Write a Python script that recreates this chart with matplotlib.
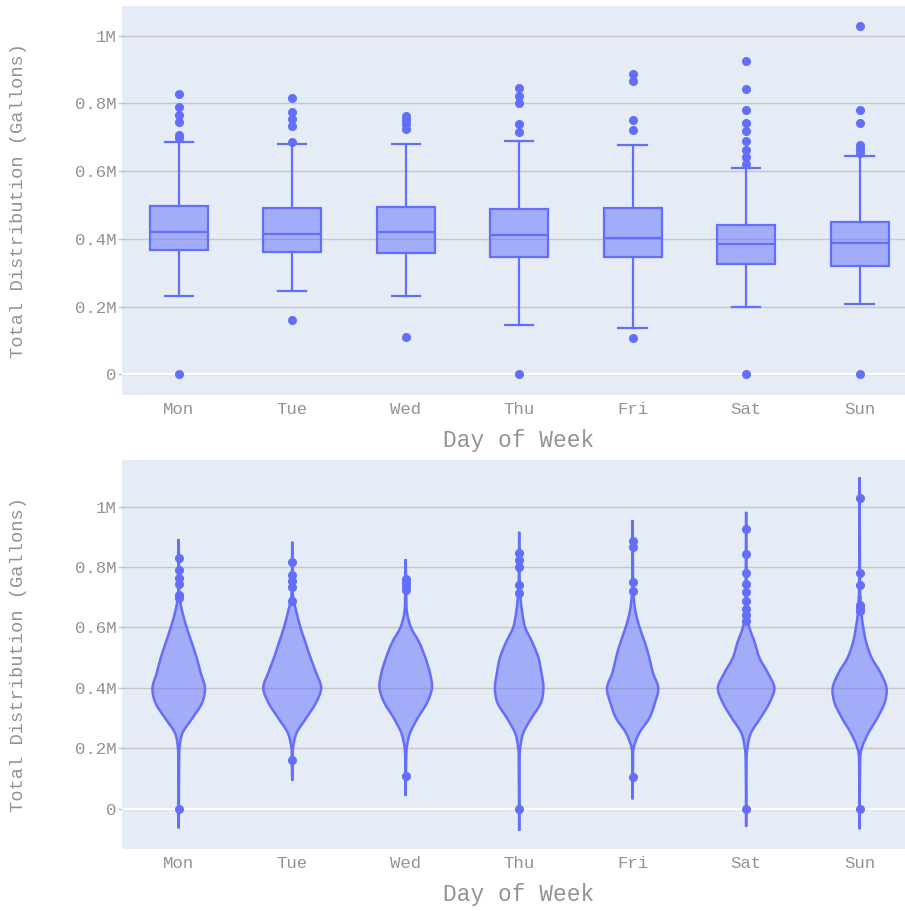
import numpy as np
import matplotlib.pyplot as plt
from matplotlib.path import Path
from matplotlib.patches import PathPatch
from matplotlib.ticker import FuncFormatter

# daily distribution, millions of gallons
days = ['Mon', 'Tue', 'Wed', 'Thu', 'Fri', 'Sat', 'Sun']
q1 = [0.366, 0.362, 0.359, 0.347, 0.346, 0.325, 0.320]
median = [0.419, 0.414, 0.421, 0.411, 0.404, 0.384, 0.388]
q3 = [0.497, 0.490, 0.494, 0.488, 0.490, 0.440, 0.450]
whisker_lo = [0.230, 0.246, 0.230, 0.145, 0.136, 0.199, 0.208]
whisker_hi = [0.687, 0.679, 0.679, 0.689, 0.676, 0.608, 0.644]
outliers = [
    [0.829, 0.790, 0.765, 0.745, 0.706, 0.699, 0.0],
    [0.817, 0.775, 0.753, 0.734, 0.687, 0.160],
    [0.762, 0.752, 0.738, 0.724, 0.109],
    [0.847, 0.823, 0.800, 0.740, 0.715, 0.0],
    [0.886, 0.866, 0.752, 0.722, 0.106],
    [0.925, 0.844, 0.782, 0.743, 0.718, 0.688, 0.661, 0.643, 0.621, 0.0],
    [1.030, 0.780, 0.741, 0.676, 0.665, 0.655, 0.0],
]

# violin outline: relative density at these levels, plus the span ends
kde_levels = [0.15, 0.20, 0.25, 0.30, 0.35, 0.40, 0.45, 0.50, 0.55, 0.60, 0.65, 0.70, 0.75]
kde_density = [
    [0.4, 0.8, 3.7, 13.7, 23.3, 26.3, 22.0, 18.0, 13.0, 8.0, 3.7, 0.8, 0.4],
    [0.4, 0.8, 4.3, 14.0, 23.7, 29.0, 24.0, 18.3, 13.3, 8.3, 4.3, 1.0, 0.4],
    [0.4, 1.0, 4.3, 12.0, 21.3, 26.3, 24.3, 19.7, 13.7, 5.3, 1.3, 0.6, 0.4],
    [0.4, 1.0, 4.0, 12.3, 21.7, 24.3, 22.3, 19.3, 13.3, 6.0, 3.0, 1.3, 0.4],
    [0.4, 1.0, 6.5, 16.7, 22.3, 25.7, 20.3, 16.7, 12.3, 7.0, 3.0, 1.0, 0.4],
    [0.4, 1.3, 4.7, 14.3, 23.3, 28.3, 21.7, 13.3, 8.7, 3.3, 1.0, 0.6, 0.4],
    [0.5, 2.2, 8.7, 17.7, 25.0, 27.0, 21.0, 12.0, 6.7, 3.7, 1.7, 0.8, 0.4],
]
span_lo = [-0.065, 0.093, 0.042, -0.073, 0.031, -0.060, -0.068]
span_hi = [0.893, 0.884, 0.826, 0.917, 0.956, 0.983, 1.097]

yticks = [0, 0.2, 0.4, 0.6, 0.8, 1.0]

BLUE = '#636EFA'
FILL = (99 / 255, 110 / 255, 250 / 255, 0.5)
BG = '#E5ECF6'
GRID = '#c6c6c6'
TXT = '#939393'

plt.rcParams['font.family'] = ['Liberation Mono', 'DejaVu Sans Mono']


def fmt_m(v, pos):
    if abs(v) < 1e-9:
        return '0'
    if abs(v - round(v)) < 1e-9:
        return f'{int(round(v))}M'
    return f'{v:.1f}M'


def smooth_segments(pts):
    # catmull-rom through the read points, handed to matplotlib as bezier curves
    verts, codes = [], []
    n = len(pts)
    for k in range(n - 1):
        p0 = pts[max(k - 1, 0)]
        p1 = pts[k]
        p2 = pts[k + 1]
        p3 = pts[min(k + 2, n - 1)]
        verts += [p1 + (p2 - p0) / 6, p2 - (p3 - p1) / 6, p2]
        codes += [Path.CURVE4] * 3
    return verts, codes


def style_axis(ax, ylim):
    ax.set_facecolor(BG)
    for s in ax.spines.values():
        s.set_visible(False)
    ax.set_xlim(-0.5, 6.4)
    ax.set_ylim(*ylim)
    ax.set_yticks(yticks)
    ax.yaxis.set_major_formatter(FuncFormatter(fmt_m))
    ax.grid(axis='y', color=GRID, lw=1.0)
    ax.set_axisbelow(True)
    ax.axhline(0, color='white', lw=1.5, zorder=0.8)
    ax.tick_params(axis='y', length=3, width=1, color=GRID, pad=1,
                   labelsize=12.5, labelcolor=TXT)
    ax.set_xticks(range(len(days)))
    ax.set_xticklabels(days)
    ax.tick_params(axis='x', length=0, pad=5, labelsize=12.5, labelcolor=TXT)
    ax.set_xlabel('Day of Week', fontsize=16.5, color=TXT)
    ax.xaxis.set_label_coords(0.507, -46 / 389)
    ax.xaxis.label.set_va('center')
    ax.set_ylabel('Total Distribution (Gallons)', fontsize=13.5, color=TXT)
    ax.yaxis.set_label_coords(-103 / 783, 0.5)
    ax.yaxis.label.set_va('center')


fig = plt.figure(figsize=(9.05, 9.11), dpi=100)
ax_box = fig.add_axes([122 / 905, 1 - 395 / 911, 783 / 905, 389 / 911])
ax_vio = fig.add_axes([122 / 905, 1 - 849 / 911, 783 / 905, 389 / 911])

# box plot
stats = []
for i in range(len(days)):
    stats.append(dict(med=median[i], q1=q1[i], q3=q3[i],
                      whislo=whisker_lo[i], whishi=whisker_hi[i],
                      fliers=outliers[i]))
ax_box.bxp(stats, positions=range(len(days)), widths=0.51, capwidths=0.25,
           patch_artist=True, manage_ticks=False,
           boxprops=dict(facecolor=FILL, edgecolor=BLUE, linewidth=1.6),
           medianprops=dict(color=BLUE, linewidth=1.6),
           whiskerprops=dict(color=BLUE, linewidth=1.6),
           capprops=dict(color=BLUE, linewidth=1.6),
           flierprops=dict(marker='o', markerfacecolor=BLUE, markeredgecolor=BLUE,
                           markersize=5.5, linestyle='none'))
style_axis(ax_box, (-0.0611, 1.0877))

# violin plot
dmax = max(max(d) for d in kde_density)
half_width = 0.255
for i in range(len(days)):
    vals = np.array([span_lo[i]] + kde_levels + [span_hi[i]])
    hw = np.array([0] + kde_density[i] + [0]) / dmax * half_width
    keep = (vals >= span_lo[i]) & (vals <= span_hi[i])
    vals, hw = vals[keep], hw[keep]
    right = np.column_stack([i + hw, vals])
    left = np.column_stack([i - hw, vals])[::-1]
    v_r, c_r = smooth_segments(right)
    v_l, c_l = smooth_segments(left)
    verts = [right[0]] + v_r + v_l + [right[0]]
    codes = [Path.MOVETO] + c_r + c_l + [Path.CLOSEPOLY]
    ax_vio.add_patch(PathPatch(Path(verts, codes), facecolor=FILL,
                               edgecolor=BLUE, linewidth=1.8, zorder=2))
    ax_vio.plot([i] * len(outliers[i]), outliers[i], 'o', color=BLUE,
                markersize=5.5, zorder=3)
style_axis(ax_vio, (-0.1334, 1.1546))

fig.savefig('out.png', dpi=100)
